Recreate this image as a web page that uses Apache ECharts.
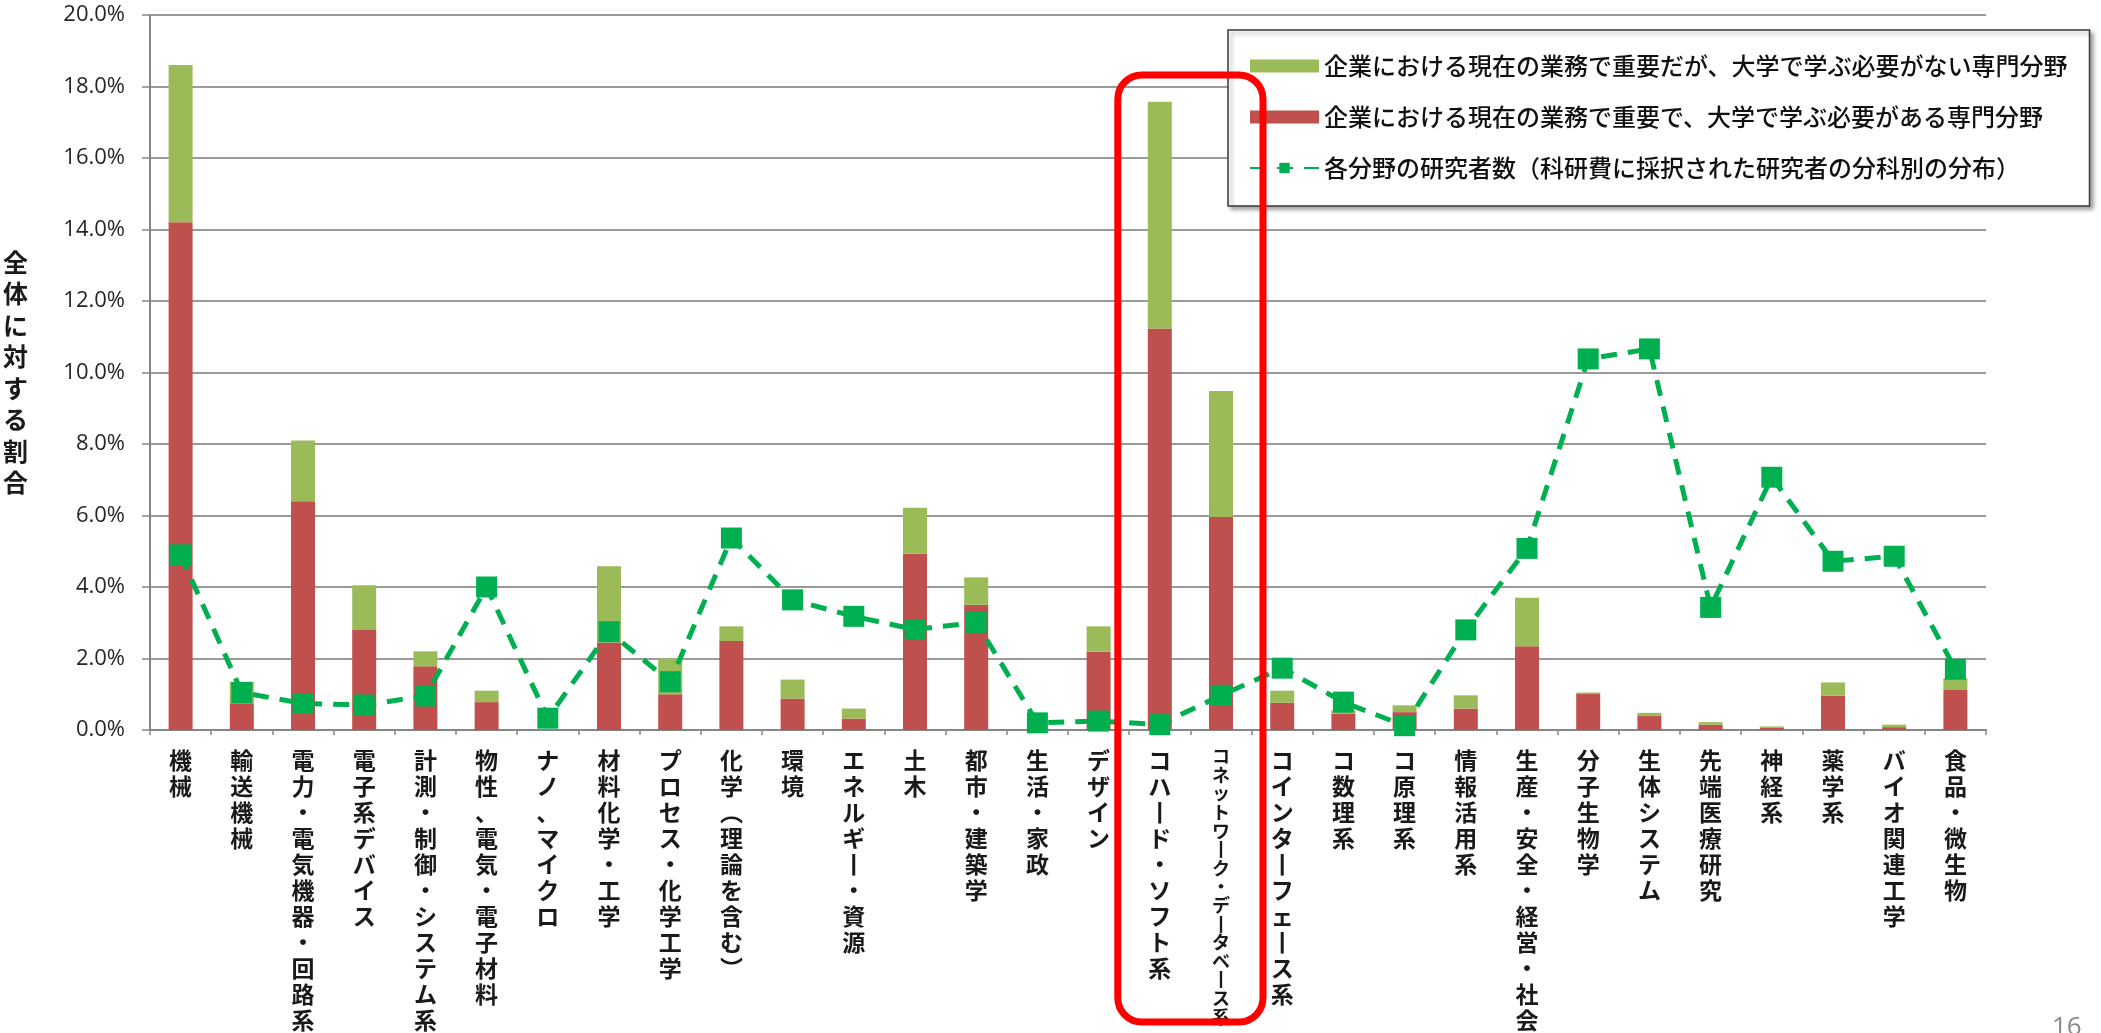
<!DOCTYPE html>
<html>
<head>
<meta charset="utf-8">
<script src="https://cdn.jsdelivr.net/npm/echarts@6/dist/echarts.min.js"></script>
<style>
html,body{margin:0;padding:0;background:#fff;}
#chart{width:2101px;height:1033px;}
</style>
</head>
<body>
<div id="chart"></div>
<script>
// ---- data ----
const categories = [
  '機械','輸送機械','電力・電気機器・回路系','電子系デバイス','計測・制御・システム系',
  '物性、電気・電子材料','ナノ、マイクロ','材料化学・工学','プロセス・化学工学','化学（理論を含む）',
  '環境','エネルギー・資源','土木','都市・建築学','生活・家政',
  'デザイン','コハード・ソフト系','コネットワーク・データベース系','コインターフェース系','コ数理系',
  'コ原理系','情報活用系','生産・安全・経営・社会','分子生物学','生体システム',
  '先端医療研究','神経系','薬学系','バイオ関連工学','食品・微生物'
];
// share needed to be learned at university (red, bottom of stack), %
const needUniv = [
  14.2, 0.75, 6.4, 2.8, 1.78,
  0.78, 0, 2.45, 1.0, 2.49,
  0.88, 0.32, 4.93, 3.5, 0,
  2.19, 11.23, 5.96, 0.76, 0.45,
  0.5, 0.6, 2.34, 1.01, 0.39,
  0.15, 0.07, 0.96, 0.08, 1.12
];
// total bar height (red + green), %
const totalImportant = [
  18.6, 1.35, 8.1, 4.05, 2.2,
  1.1, 0, 4.58, 2.0, 2.9,
  1.41, 0.6, 6.22, 4.27, 0,
  2.9, 17.57, 9.48, 1.1, 0.55,
  0.69, 0.97, 3.7, 1.05, 0.48,
  0.22, 0.1, 1.33, 0.15, 1.45
];
// researcher distribution (line), %
const researchers = [
  4.9, 1.05, 0.74, 0.7, 0.95,
  4.0, 0.33, 2.75, 1.35, 5.37,
  3.64, 3.18, 2.81, 3.01, 0.2,
  0.25, 0.15, 0.97, 1.73, 0.78,
  0.12, 2.8, 5.08, 10.38, 10.66,
  3.43, 7.07, 4.72, 4.86, 1.7
];
const yTicks = [0, 2, 4, 6, 8, 10, 12, 14, 16, 18, 20];

const nameGreen = '企業における現在の業務で重要だが、大学で学ぶ必要がない専門分野';
const nameRed = '企業における現在の業務で重要で、大学で学ぶ必要がある専門分野';
const nameLine = '各分野の研究者数（科研費に採択された研究者の分科別の分布）';

const noNeed = totalImportant.map((t, i) => Math.max(0, +(t - needUniv[i]).toFixed(3)));

const CJK = '"Noto Sans CJK JP", "Noto Sans CJK SC", sans-serif';
// vertical-writing display forms (display only)
const vertMap = {'ー':'丨','（':'︵','）':'︶'};
function vertical(s) {
  return Array.from(s).map(c => vertMap[c] || c).join('\n');
}

const chart = echarts.init(document.getElementById('chart'), null, {renderer: 'canvas'});
const option = {
  animation: false,
  backgroundColor: '#ffffff',
  grid: {left: 150, right: 115, top: 15, bottom: 294, containLabel: false},
  legend: {
    orient: 'vertical',
    left: 1228,
    top: 30,
    backgroundColor: '#ffffff',
    borderColor: '#3a3a3a',
    borderWidth: 1.5,
    shadowColor: 'rgba(0,0,0,0.35)',
    shadowBlur: 4,
    shadowOffsetX: 3,
    shadowOffsetY: 3,
    padding: [24, 22, 26, 21],
    itemGap: 27,
    itemWidth: 69,
    itemHeight: 13,
    textStyle: {fontFamily: CJK, fontSize: 24, fontWeight: 500, color: '#111'},
    data: [
      {name: nameGreen, icon: 'rect'},
      {name: nameRed, icon: 'rect'},
      {name: nameLine}
    ]
  },
  xAxis: {
    type: 'category',
    data: categories,
    boundaryGap: true,
    axisLine: {show: true, lineStyle: {color: '#868686', width: 2}},
    axisTick: {show: true, length: 5, lineStyle: {color: '#868686', width: 1.5}},
    axisLabel: {
      interval: 0,
      margin: 17,
      fontFamily: CJK,
      fontSize: 23,
      fontWeight: 'bold',
      lineHeight: 26,
      color: '#1a1a1a',
      align: 'center',
      verticalAlign: 'top',
      formatter: function (v) {
        if (v.length > 12) return '{s|' + vertical(v) + '}';
        return vertical(v);
      },
      rich: {s: {fontFamily: CJK, fontSize: 18, fontWeight: 'bold', lineHeight: 18.6, color: '#1a1a1a'}}
    },
    splitLine: {show: false}
  },
  yAxis: {
    type: 'value',
    min: yTicks[0],
    max: yTicks[yTicks.length - 1],
    interval: 2,
    name: vertical('全体に対する割合'),
    nameLocation: 'middle',
    nameRotate: 0,
    nameGap: 122,
    nameTextStyle: {fontFamily: CJK, fontSize: 25, fontWeight: 'bold', lineHeight: 31.5, color: '#1a1a1a'},
    axisLine: {show: true, lineStyle: {color: '#868686', width: 2}},
    axisTick: {show: true, length: 8, lineStyle: {color: '#868686', width: 1.5}},
    axisLabel: {
      margin: 25,
      fontFamily: '"Open Sans", "Liberation Sans", sans-serif',
      fontSize: 22,
      color: '#262626',
      formatter: v => v.toFixed(1) + '%'
    },
    splitLine: {show: true, lineStyle: {color: '#9a9a9a', width: 2}}
  },
  series: [
    {
      name: nameRed,
      type: 'bar',
      stack: 'imp',
      barWidth: 24,
      itemStyle: {color: '#C0504D'},
      data: needUniv,
      z: 2
    },
    {
      name: nameGreen,
      type: 'bar',
      stack: 'imp',
      barWidth: 24,
      itemStyle: {color: '#9BBB59'},
      data: noNeed,
      z: 2
    },
    {
      name: nameLine,
      type: 'line',
      data: researchers,
      symbol: 'rect',
      symbolSize: [21, 21],
      showAllSymbol: true,
      itemStyle: {color: '#00B050'},
      lineStyle: {color: '#00B050', width: 5, type: [16, 11]},
      z: 5
    }
  ]
};
chart.setOption(option);

// red highlight frame around the two information categories
const xa = chart.convertToPixel({xAxisIndex: 0}, categories[16]);
const xb = chart.convertToPixel({xAxisIndex: 0}, categories[17]);
chart.setOption({
  graphic: [
    {
      type: 'rect',
      shape: {x: xa - 42, y: 75, width: (xb - xa) + 84, height: 947, r: 24},
      style: {fill: 'none', stroke: '#FF0000', lineWidth: 7},
      z: 100
    },
    {
      type: 'text',
      left: 2052,
      top: 1015,
      style: {text: '16', fontFamily: '"Open Sans", sans-serif', fontSize: 26, fill: '#8a8a8a'},
      z: 100
    }
  ]
});
</script>
</body>
</html>
